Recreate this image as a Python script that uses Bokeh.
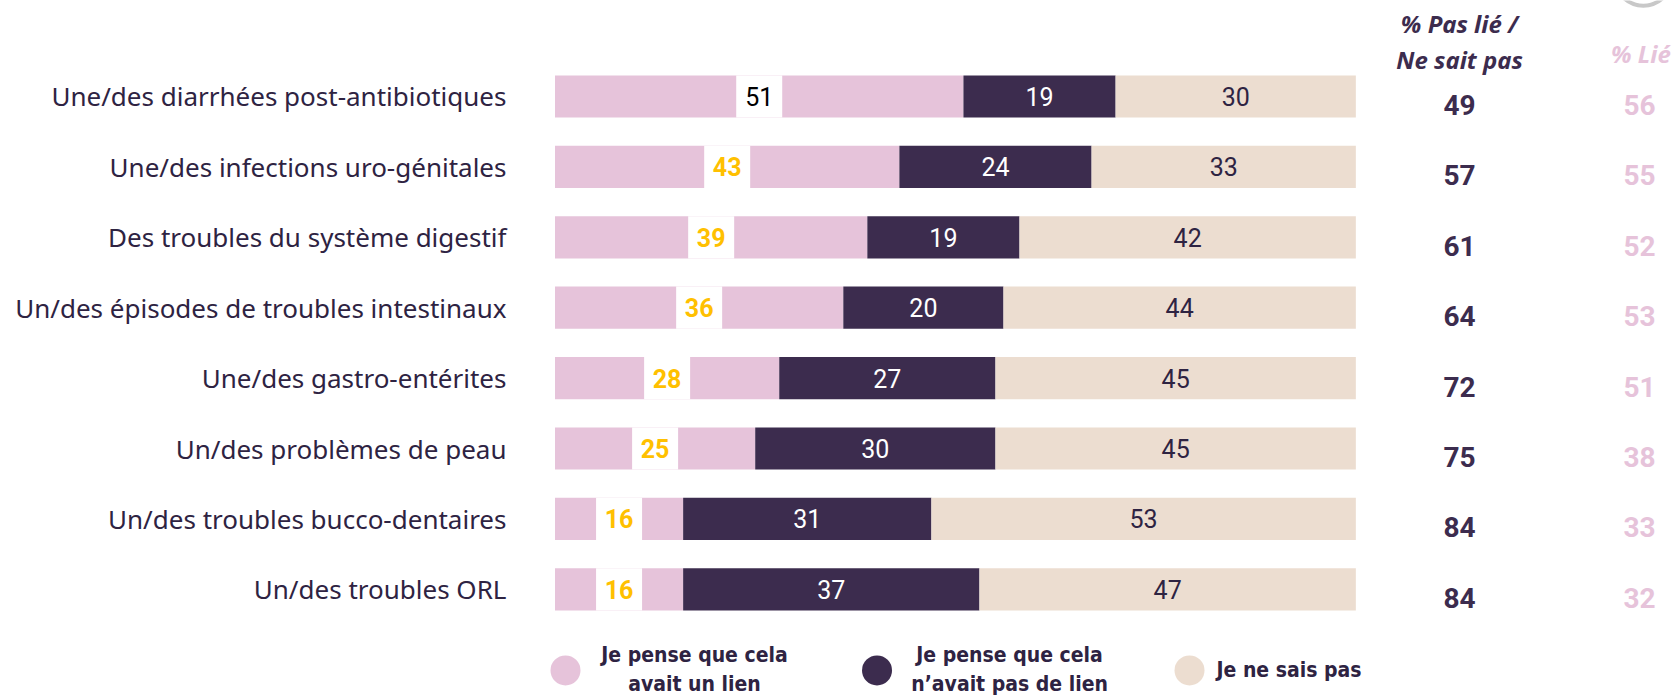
from bokeh.plotting import figure
from bokeh.models import Range1d
from bokeh.core.properties import value
from bokeh.embed import file_html
from bokeh.resources import INLINE

categories = [
    "Une/des diarrhées post-antibiotiques",
    "Une/des infections uro-génitales",
    "Des troubles du système digestif",
    "Un/des épisodes de troubles intestinaux",
    "Une/des gastro-entérites",
    "Un/des problèmes de peau",
    "Un/des troubles bucco-dentaires",
    "Un/des troubles ORL",
]
lien = [51, 43, 39, 36, 28, 25, 16, 16]
pas_lien = [19, 24, 19, 20, 27, 30, 31, 37]
ne_sait = [30, 33, 42, 44, 45, 45, 53, 47]
pct_pas_lie_nsp = [49, 57, 61, 64, 72, 75, 84, 84]
pct_lie = [56, 55, 52, 53, 51, 38, 33, 32]
series_names = ["Je pense que cela\navait un lien", "Je pense que cela\nn’avait pas de lien", "Je ne sais pas"]

PINK = "#E6C3DA"
DARK = "#3C2C4E"
BEIGE = "#ECDDD0"
GOLD = "#FFC000"
TXT = "#2E2342"

W, H = 1672, 695
p = figure(width=W, height=H, output_backend="svg", toolbar_location=None,
           x_range=Range1d(-69.24, 139.54), y_range=Range1d(8.5085, -1.3636),
           min_border=0, outline_line_color=None)
p.axis.visible = False
p.grid.visible = False
p.background_fill_color = "white"
p.border_fill_color = "white"

n = len(categories)
ys = list(range(n))
l0 = [0] * n
l1 = lien[:]
l2 = [a + b for a, b in zip(lien, pas_lien)]
l3 = [a + b + c for a, b, c in zip(lien, pas_lien, ne_sait)]

bh = 0.6
p.hbar(y=ys, left=l0, right=l1, height=bh, fill_color=PINK, line_color=None)
p.hbar(y=ys, left=l1, right=l2, height=bh, fill_color=DARK, line_color=None)
p.hbar(y=ys, left=l2, right=l3, height=bh, fill_color=BEIGE, line_color=None)

# pink labels in white boxes
c1 = [(a + b) / 2 for a, b in zip(l0, l1)]
p.rect(x=c1, y=ys, width=46, height=bh, width_units="screen", fill_color="white", line_color=None)
lab_col = ["#000000" if v >= 50 else GOLD for v in lien]
p.text(x=c1, y=ys, text=[str(v) for v in lien], text_color=lab_col,
       text_font=value("Roboto"), text_font_size="25px",
       text_font_style=["normal" if v >= 50 else "bold" for v in lien],
       text_align="center", text_baseline="middle")
c2 = [(a + b) / 2 for a, b in zip(l1, l2)]
p.text(x=c2, y=ys, text=[str(v) for v in pas_lien], text_color="white",
       text_font=value("Roboto"), text_font_size="25px",
       text_align="center", text_baseline="middle")
c3 = [(a + b) / 2 for a, b in zip(l2, l3)]
p.text(x=c3, y=ys, text=[str(v) for v in ne_sait], text_color=TXT,
       text_font=value("Roboto"), text_font_size="25px",
       text_align="center", text_baseline="middle")

# category labels
p.text(x=[-6.06] * n, y=ys, text=categories, text_color=TXT,
       text_font=value("Noto Sans"), text_font_size="26px",
       text_align="right", text_baseline="middle")

# right columns
p.text(x=[112.95] * n, y=[y + 0.12 for y in ys], text=[str(v) for v in pct_pas_lie_nsp], text_color=DARK,
       text_font=value("Roboto"), text_font_size="28px", text_font_style="bold",
       text_align="center", text_baseline="middle")
p.text(x=[135.43] * n, y=[y + 0.12 for y in ys], text=[str(v) for v in pct_lie], text_color=PINK,
       text_font=value("Roboto"), text_font_size="28px", text_font_style="bold",
       text_align="center", text_baseline="middle")
p.text(x=[112.95, 112.95], y=[-1.037, -0.526], text=["% Pas lié /", "Ne sait pas"], text_color=DARK,
       text_font=value("Noto Sans"), text_font_size="24px", text_font_style="bold italic",
       text_align="center", text_baseline="middle")
p.text(x=[135.6], y=[-0.611], text=["% Lié"], text_color=PINK,
       text_font=value("Noto Sans"), text_font_size="24px", text_font_style="bold italic",
       text_align="center", text_baseline="middle")

# decorative partial circle at top right
p.circle(x=[135.9], y=[-1.70], radius=3.6, fill_color=None, line_color="#C8C8C8", line_width=4)

# legend
p.scatter(x=[1.31, 40.21, 79.23], y=[8.153] * 3, size=30, marker="circle",
          fill_color=[PINK, DARK, BEIGE], line_color=None)
lx = [17.42, 56.76]
for i in range(2):
    lines = series_names[i].split("\n")
    p.text(x=[lx[i]] * 2, y=[7.94, 8.345], text=lines, text_color=TXT,
           text_font=value("DejaVu Sans Condensed"), text_font_size="21px", text_font_style="bold",
           text_align="center", text_baseline="middle")
p.text(x=[82.6], y=[8.153], text=[series_names[2]], text_color=TXT,
       text_font=value("DejaVu Sans Condensed"), text_font_size="21px", text_font_style="bold",
       text_align="left", text_baseline="middle")

open("out.html", "w").write(file_html(p, INLINE))
